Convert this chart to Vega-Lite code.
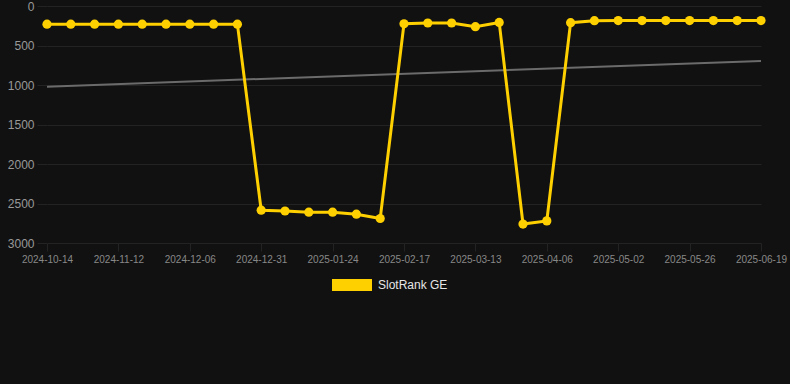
{
  "$schema": "https://vega.github.io/schema/vega-lite/v6.json",
  "autosize": "none",
  "width": 714,
  "height": 237,
  "padding": {"left": 47, "top": 6, "right": 29, "bottom": 141},
  "background": "#111111",
  "config": {
    "view": {"stroke": null},
    "font": "Liberation Sans",
    "axis": {
      "gridColor": "#232323",
      "tickColor": "#232323",
      "tickSize": 8,
      "domain": false,
      "labelColor": "#888888",
      "labelFont": "Liberation Sans",
      "title": null
    }
  },
  "datasets": {
    "ranks": [
      {"date": "2024-10-14", "rank": 230},
      {"date": "2024-10-24", "rank": 230},
      {"date": "2024-11-03", "rank": 230},
      {"date": "2024-11-12", "rank": 230},
      {"date": "2024-11-20", "rank": 230},
      {"date": "2024-11-28", "rank": 230},
      {"date": "2024-12-06", "rank": 230},
      {"date": "2024-12-14", "rank": 230},
      {"date": "2024-12-22", "rank": 230},
      {"date": "2024-12-31", "rank": 2585},
      {"date": "2025-01-08", "rank": 2595},
      {"date": "2025-01-16", "rank": 2610},
      {"date": "2025-01-24", "rank": 2610},
      {"date": "2025-02-01", "rank": 2635},
      {"date": "2025-02-09", "rank": 2690},
      {"date": "2025-02-17", "rank": 225},
      {"date": "2025-02-25", "rank": 215},
      {"date": "2025-03-05", "rank": 215},
      {"date": "2025-03-13", "rank": 262},
      {"date": "2025-03-21", "rank": 208},
      {"date": "2025-03-29", "rank": 2760},
      {"date": "2025-04-06", "rank": 2720},
      {"date": "2025-04-15", "rank": 211},
      {"date": "2025-04-24", "rank": 186},
      {"date": "2025-05-02", "rank": 185},
      {"date": "2025-05-10", "rank": 185},
      {"date": "2025-05-18", "rank": 185},
      {"date": "2025-05-26", "rank": 185},
      {"date": "2025-06-03", "rank": 185},
      {"date": "2025-06-11", "rank": 185},
      {"date": "2025-06-19", "rank": 185}
    ],
    "trend": [
      {"date": "2024-10-14", "rank": 1021},
      {"date": "2025-06-19", "rank": 695}
    ]
  },
  "encoding": {
    "x": {
      "field": "date",
      "type": "ordinal",
      "scale": {"type": "point", "padding": 0},
      "axis": {
        "labelAngle": 0,
        "labelFontSize": 10,
        "labelPadding": 3,
        "values": ["2024-10-14", "2024-11-12", "2024-12-06", "2024-12-31", "2025-01-24", "2025-02-17", "2025-03-13", "2025-04-06", "2025-05-02", "2025-05-26", "2025-06-19"]
      }
    },
    "y": {
      "field": "rank",
      "type": "quantitative",
      "scale": {"domain": [0, 3000], "reverse": true, "nice": false},
      "axis": {"values": [0, 500, 1000, 1500, 2000, 2500, 3000], "format": "d", "labelFontSize": 12, "labelPadding": 3, "tickSize": 10, "labelColor": "#999999"}
    }
  },
  "layer": [
    {
      "data": {"name": "trend"},
      "mark": {"type": "line", "color": "#6b6b6b", "strokeWidth": 2},
      "encoding": {}
    },
    {
      "data": {"name": "ranks"},
      "mark": {"type": "line", "strokeWidth": 3},
      "encoding": {
        "color": {
          "datum": "SlotRank GE",
          "type": "nominal",
          "scale": {"range": ["#ffd000"]},
          "legend": {
            "orient": "none",
            "legendX": 285,
            "legendY": 259,
            "title": null,
            "symbolType": "M-1,-0.3H1V0.3H-1Z",
            "symbolSize": 1600,
            "symbolStrokeWidth": 0,
            "labelColor": "#e6e6e6",
            "labelFontSize": 12,
            "labelFont": "Liberation Sans",
            "labelOffset": 6,
            "encode": {"symbols": {"update": {"fill": {"value": "#ffd000"}, "stroke": {"value": "transparent"}}}}
          }
        }
      }
    },
    {
      "data": {"name": "ranks"},
      "mark": {"type": "point", "filled": true, "size": 85, "opacity": 1, "color": "#ffd000"}
    }
  ]
}
